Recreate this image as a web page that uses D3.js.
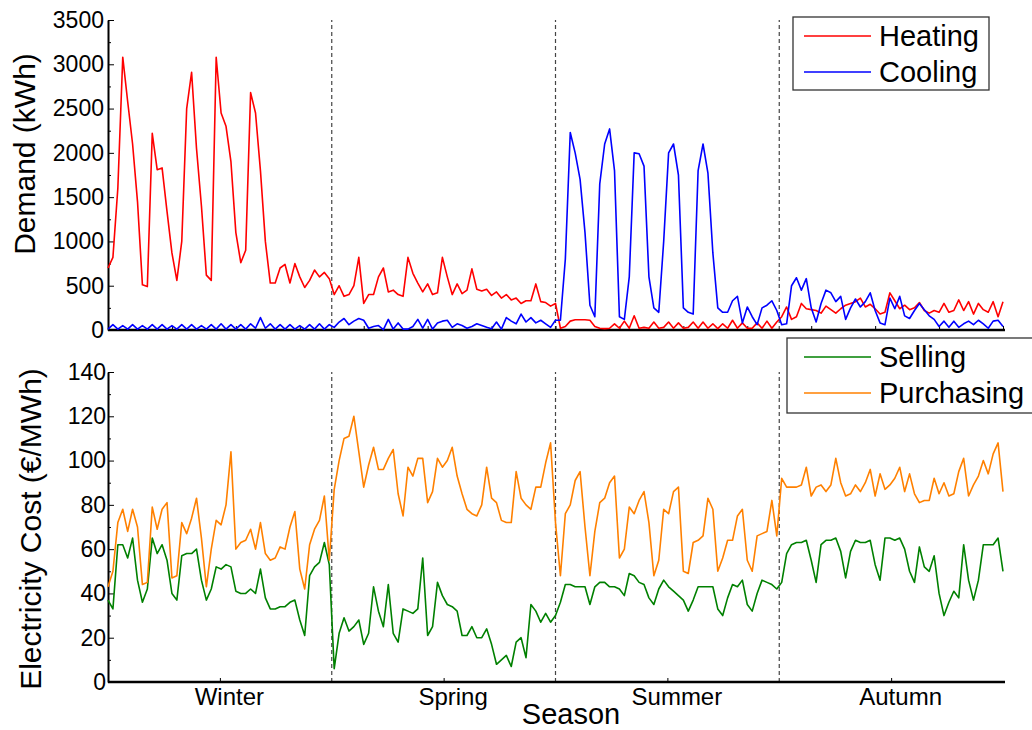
<!DOCTYPE html>
<html>
<head>
<meta charset="utf-8">
<script src="https://cdn.jsdelivr.net/npm/d3@7"></script>
<style>
body { margin: 0; background: #fff; }
svg { font-family: "Liberation Sans", Arial, sans-serif; }
</style>
</head>
<body>
<svg id="chart" width="1032" height="730"></svg>
<script>

// seasons and where they begin (day of year)
const seasons = ["Winter", "Spring", "Summer", "Autumn"];
const seasonStart = [0, 91, 182, 273, 364];
const dayStep = 2;   // one value every 2 days

// heating demand (kWh)
const heating = [
  700, 820, 1600, 3080, 2580, 2100, 1450, 510, 490, 2220,
  1810, 1830, 1340, 870, 560, 1000, 2500, 2910, 2050, 1400,
  620, 560, 3080, 2450, 2300, 1900, 1100, 760, 900, 2680,
  2450, 1800, 1000, 530, 530, 700, 740, 530, 750, 600,
  480, 560, 677, 600, 650, 580, 400, 500, 380, 400,
  500, 820, 300, 400, 400, 600, 700, 430, 450, 400,
  380, 820, 640, 530, 430, 520, 400, 420, 820, 600,
  400, 520, 410, 450, 690, 460, 440, 460, 390, 430,
  360, 400, 340, 360, 300, 330, 330, 520, 320, 310,
  270, 300, 20, 40, 100, 115, 115, 115, 110, 40,
  20, 15, 20, 70, 20, 100, 20, 160, 20, 30,
  20, 90, 20, 30, 90, 20, 80, 20, 30, 90,
  20, 90, 20, 70, 15, 70, 20, 110, 20, 80,
  20, 20, 80, 20, 100, 20, 90, 150, 260, 120,
  150, 300, 240, 230, 220, 190, 270, 230, 190, 240,
  280, 300, 320, 360, 260, 290, 240, 180, 200, 420,
  330, 240, 280, 230, 250, 310, 220, 190, 220, 200,
  300, 200, 220, 340, 220, 320, 180, 300, 230, 200,
  320, 150, 320
];

// cooling demand (kWh)
const cooling = [
  10, 60, 10, 50, 10, 60, 10, 50, 10, 60,
  10, 60, 10, 50, 10, 60, 10, 60, 10, 50,
  10, 60, 10, 70, 10, 60, 10, 60, 10, 70,
  20, 140, 20, 70, 10, 60, 10, 60, 10, 50,
  10, 60, 10, 70, 10, 60, 30, 90, 130, 60,
  100, 130, 110, 20, 40, 50, 5, 120, 10, 80,
  10, 10, 40, 120, 20, 120, 10, 80, 100, 110,
  30, 70, 50, 20, 40, 70, 50, 30, 15, 90,
  10, 140, 100, 70, 180, 90, 140, 80, 110, 70,
  30, 110, 110, 800, 2230, 2000, 1700, 1100, 280, 150,
  1650, 2100, 2270, 1800, 150, 120, 600, 2000, 1990, 1850,
  600, 250, 200, 1000, 2000, 2100, 1750, 250, 200, 180,
  1800, 2100, 1770, 870, 250, 200, 200, 330, 380, 80,
  260, 150, 60, 250, 280, 330, 220, 60, 70, 500,
  590, 450, 580, 250, 90, 300, 450, 420, 320, 380,
  120, 250, 350, 260, 320, 420, 220, 80, 60, 360,
  240, 380, 160, 130, 220, 300, 230, 160, 120, 40,
  100, 30, 100, 30, 70, 100, 60, 110, 70, 20,
  100, 110, 40
];

// electricity selling price (EUR/MWh)
const selling = [
  37, 33, 62, 62, 56, 65, 46, 36, 42, 65,
  58, 62, 55, 40, 37, 57, 58, 58, 60, 46,
  37, 42, 52, 51, 53, 52, 41, 40, 40, 42,
  40, 51, 38, 33, 33, 34, 34, 36, 37, 28,
  21, 48, 52, 54, 63, 53, 6, 22, 29, 23,
  25, 28, 17, 22, 43, 32, 25, 44, 22, 18,
  33, 32, 31, 33, 56, 21, 25, 45, 39, 35,
  34, 32, 21, 21, 25, 20, 20, 24, 17, 8,
  10, 12, 7, 18, 20, 11, 35, 32, 27, 31,
  27, 30, 36, 44, 44, 43, 43, 43, 35, 43,
  45, 45, 43, 43, 42, 39, 49, 48, 45, 44,
  38, 35, 42, 46, 43, 41, 39, 37, 32, 37,
  43, 43, 43, 43, 33, 30, 38, 44, 43, 46,
  35, 32, 40, 46, 45, 44, 42, 45, 58, 62,
  63, 63, 64, 55, 45, 62, 64, 64, 65, 59,
  47, 59, 64, 63, 63, 64, 53, 46, 65, 65,
  64, 65, 60, 50, 45, 61, 52, 50, 57, 40,
  30, 36, 41, 38, 62, 46, 37, 46, 62, 62,
  62, 65, 50
];

// electricity purchasing price (EUR/MWh)
const purchasing = [
  43, 50, 72, 78, 68, 78, 70, 44, 45, 79,
  69, 78, 81, 47, 48, 72, 67, 74, 83, 65,
  43, 60, 73, 71, 80, 104, 60, 63, 64, 69,
  60, 72, 58, 55, 56, 61, 60, 70, 77, 51,
  42, 62, 69, 73, 84, 55, 87, 100, 110, 111,
  120, 104, 88, 98, 106, 96, 96, 101, 105, 85,
  75, 97, 93, 101, 101, 81, 86, 101, 97, 100,
  106, 93, 85, 78, 76, 75, 80, 97, 83, 81,
  73, 72, 72, 95, 83, 80, 78, 88, 88, 99,
  108, 72, 48, 76, 80, 91, 95, 70, 48, 68,
  81, 83, 90, 93, 56, 60, 79, 76, 82, 86,
  72, 48, 55, 78, 76, 86, 88, 50, 49, 63,
  64, 66, 83, 78, 50, 56, 64, 64, 75, 78,
  55, 50, 66, 67, 68, 82, 66, 92, 88, 88,
  88, 89, 97, 84, 88, 89, 86, 89, 101, 90,
  84, 85, 89, 86, 90, 96, 84, 94, 87, 89,
  92, 97, 86, 94, 85, 81, 82, 82, 92, 85,
  90, 84, 85, 95, 101, 84, 89, 93, 100, 94,
  103, 108, 86
];

const demandTicks = d3.range(0, 3501, 500);
const costTicks = d3.range(0, 141, 20);

const svg = d3.select("#chart");

// Scales
const x = d3.scaleLinear().domain([0, 364]).range([108, 1003]);
const yTop = d3.scaleLinear().domain([0, 3500]).range([330, 20]);
const yBot = d3.scaleLinear().domain([0, 140]).range([682, 372]);

// Season boundaries (dashed)
function drawBoundaries(y) {
  svg.append("g")
    .selectAll("line")
    .data(seasonStart.slice(1, 4))
    .enter()
    .append("line")
      .attr("x1", d => x(d)).attr("x2", d => x(d))
      .attr("y1", y.range()[0]).attr("y2", y.range()[1])
      .attr("stroke", "#444")
      .attr("stroke-width", 1.2)
      .attr("stroke-dasharray", "4,3");
}
drawBoundaries(yTop);
drawBoundaries(yBot);

// Y axes with inward ticks and minor ticks
function drawYAxis(y, ticks, minorStep, pad) {
  const g = svg.append("g").attr("transform", "translate(108,0)");
  g.call(d3.axisLeft(y).tickValues(ticks).tickFormat(d3.format("d"))
    .tickSizeInner(-6).tickSizeOuter(0).tickPadding(pad));
  g.select(".domain").attr("stroke-width", 2);
  g.selectAll("text").attr("font-size", 23).attr("fill", "#000").attr("font-family", null);

  const minor = d3.range(y.domain()[0] + minorStep, y.domain()[1], minorStep * 2);
  const m = svg.append("g").attr("transform", "translate(108,0)");
  m.call(d3.axisLeft(y).tickValues(minor).tickSizeInner(-3).tickSizeOuter(0).tickFormat(""));
  m.select(".domain").remove();
}
drawYAxis(yTop, demandTicks, 250, 4);
drawYAxis(yBot, costTicks, 10, 2);

// X axes
const topX = svg.append("g").attr("transform", "translate(0,330)");
topX.call(d3.axisBottom(x).tickValues(d3.range(0, 365, 26)).tickSizeInner(-4).tickSizeOuter(0).tickFormat(""));
topX.select(".domain").remove();

const seasonMid = seasons.map((s, i) => (seasonStart[i] + seasonStart[i + 1]) / 2);
const botX = svg.append("g").attr("transform", "translate(0,682)");
botX.call(d3.axisBottom(x).tickValues(seasonMid).tickSizeInner(-4).tickSizeOuter(0)
  .tickPadding(6).tickFormat((d, i) => seasons[i]));
botX.select(".domain").remove();
botX.selectAll("text").attr("font-size", 24).attr("fill", "#000").attr("font-family", null).attr("dx", 9);

[330, 682].forEach(yy => {
  svg.append("line")
    .attr("x1", 108).attr("x2", 1005)
    .attr("y1", yy).attr("y2", yy)
    .attr("stroke", "#000").attr("stroke-width", 2.5);
});

// Lines
function drawSeries(values, y, color) {
  const line = d3.line()
    .x((d, i) => x(i * dayStep))
    .y(d => y(d));
  svg.append("path")
    .datum(values)
    .attr("d", line)
    .attr("fill", "none")
    .attr("stroke", color)
    .attr("stroke-width", 1.6)
    .attr("stroke-linejoin", "round");
}
drawSeries(heating, yTop, "#ff0000");
drawSeries(cooling, yTop, "#0000ff");
drawSeries(selling, yBot, "#008000");
drawSeries(purchasing, yBot, "#ff8000");

// Axis titles
svg.append("text")
  .attr("transform", "translate(35,154) rotate(-90)")
  .attr("text-anchor", "middle")
  .attr("font-size", 30)
  .text("Demand (kWh)");

svg.append("text")
  .attr("transform", "translate(41,529) rotate(-90)")
  .attr("text-anchor", "middle")
  .attr("font-size", 30)
  .text("Electricity Cost (€/MWh)");

svg.append("text")
  .attr("x", 571).attr("y", 724)
  .attr("text-anchor", "middle")
  .attr("font-size", 29)
  .text("Season");

// Legends
function drawLegend(x0, y0, w, h, items) {
  const g = svg.append("g");
  g.append("rect")
    .attr("x", x0).attr("y", y0).attr("width", w).attr("height", h)
    .attr("fill", "#fff").attr("stroke", "#333").attr("stroke-width", 1.3);
  items.forEach((it, i) => {
    const cy = y0 + 19 + i * 36;
    g.append("line")
      .attr("x1", 804).attr("x2", 871).attr("y1", cy).attr("y2", cy)
      .attr("stroke", it.color).attr("stroke-width", 1.6);
    g.append("text")
      .attr("x", 879).attr("y", cy + 10)
      .attr("font-size", 29)
      .text(it.name);
  });
}
drawLegend(793, 17, 196, 73, [
  {name: "Heating", color: "#ff0000"},
  {name: "Cooling", color: "#0000ff"}
]);
drawLegend(787, 338, 260, 75, [
  {name: "Selling", color: "#008000"},
  {name: "Purchasing", color: "#ff8000"}
]);

</script>
</body>
</html>
